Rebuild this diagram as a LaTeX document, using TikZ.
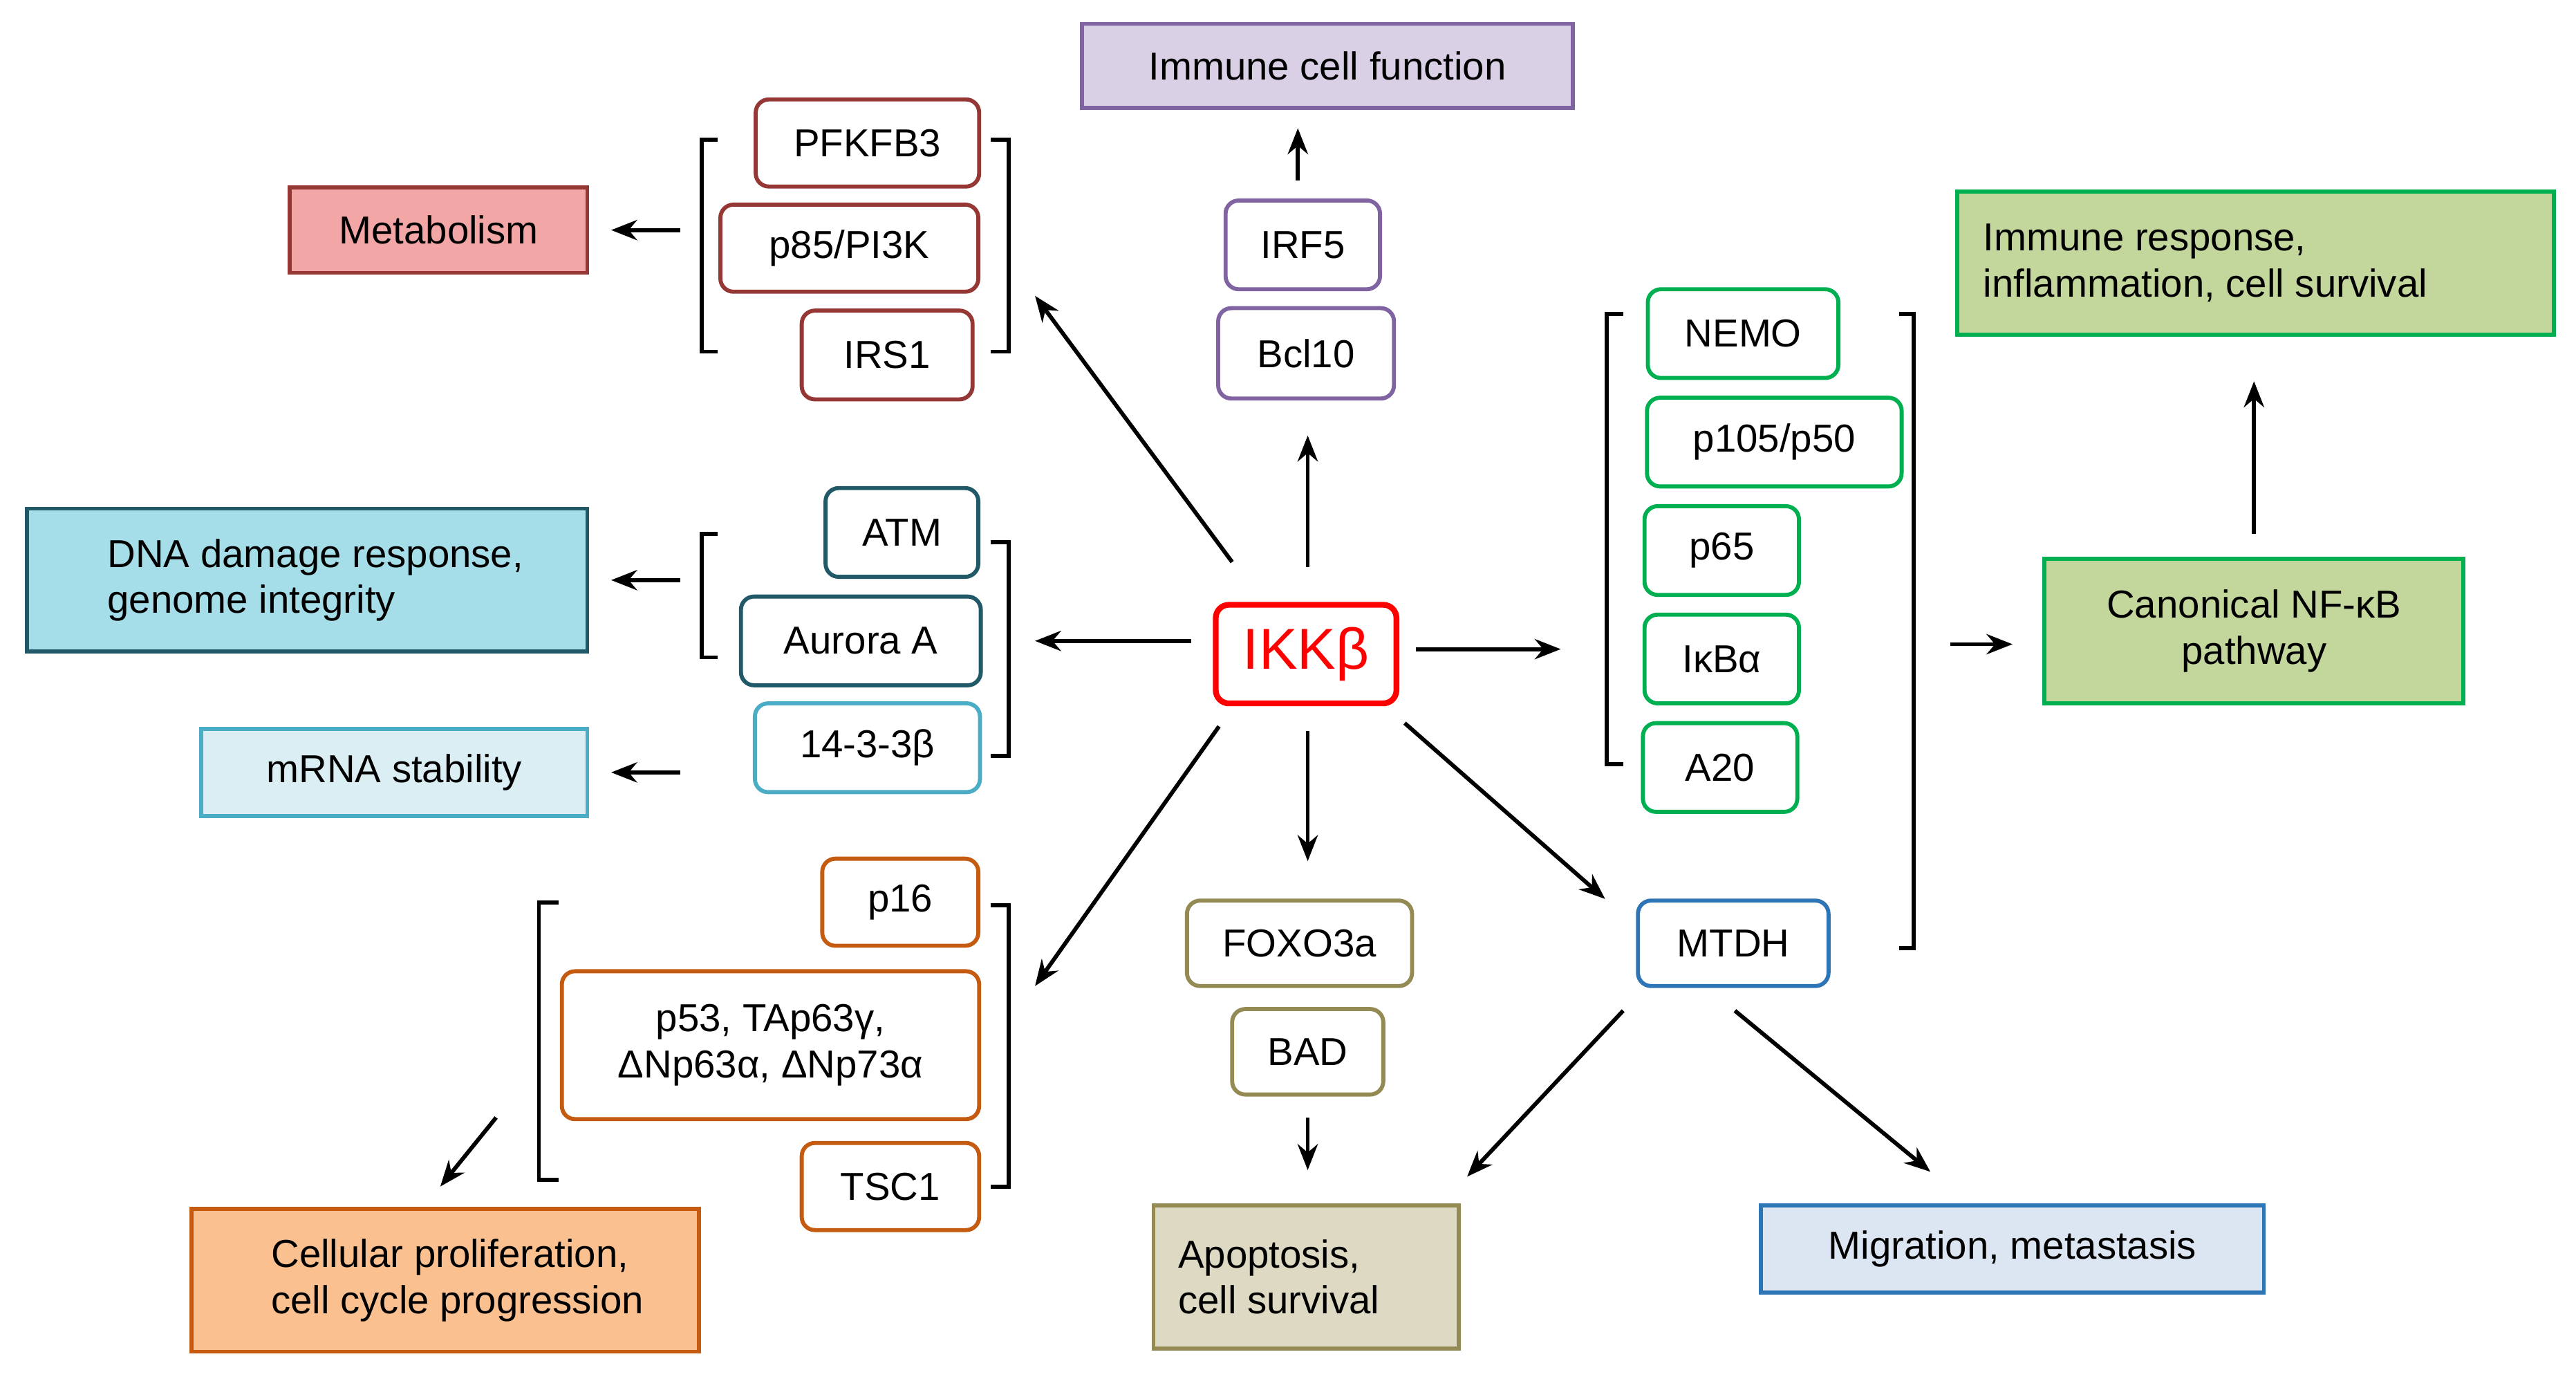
\documentclass[tikz,border=0pt]{standalone}
\usepackage{fontspec}
\setmainfont{Liberation Sans}
\usetikzlibrary{arrows.meta}
\definecolor{mred}{HTML}{953735}\definecolor{mpink}{HTML}{F2A6A6}
\definecolor{ipur}{HTML}{8064A2}\definecolor{ilav}{HTML}{D9D0E6}
\definecolor{ngreen}{HTML}{00B050}\definecolor{nfill}{HTML}{C3D69B}
\definecolor{dteal}{HTML}{215968}\definecolor{dfill}{HTML}{A5DDE8}
\definecolor{lteal}{HTML}{4BACC6}\definecolor{lfill}{HTML}{DBEEF4}
\definecolor{oor}{HTML}{C55A11}\definecolor{ofill}{HTML}{FAC090}
\definecolor{oli}{HTML}{948A54}\definecolor{olfill}{HTML}{DDD9C3}
\definecolor{mblue}{HTML}{2E75B6}\definecolor{mbfill}{HTML}{DCE6F2}
\begin{document}
\begin{tikzpicture}[x=0.02cm,y=-0.02cm,
  font=\fontsize{13.5}{16}\selectfont,
  sb/.style={draw,line width=1.4pt,rounded corners=0.16cm,inner sep=0pt,align=center},
  bb/.style={draw,line width=1.4pt,inner sep=0pt,align=left},
  ar/.style={-{Stealth[length=9pt,width=7pt]},line width=1.4pt},
  br/.style={line width=1.4pt}]
\newcommand\bx[7]{\node[#6,minimum width={#4*0.02cm},minimum height={#5*0.02cm}] (#1) at (#2,#3) {#7};}
\useasboundingbox (0,0) rectangle (1568,839);
% top
\bx{icf}{808}{40}{299}{51}{bb,draw=ipur,fill=ilav,align=center}{Immune cell function}
\bx{irf}{793}{149}{94}{54}{sb,draw=ipur}{IRF5}
\bx{bcl}{795}{215}{107}{55}{sb,draw=ipur}{Bcl10}
% metabolism
\bx{met}{267}{140}{181}{52}{bb,draw=mred,fill=mpink,align=center}{Metabolism}
\bx{pfk}{528}{87}{136}{53}{sb,draw=mred}{PFKFB3}
\bx{p85}{517}{151}{157}{53}{sb,draw=mred}{p85/PI3K}
\bx{irs}{540}{216}{104}{54}{sb,draw=mred}{IRS1}
\draw[br] (437,85)--(427,85)--(427,214)--(437,214);
\draw[br] (603,85)--(614,85)--(614,214)--(603,214);
% DNA
\bx{dna}{187}{353}{341}{87}{bb,draw=dteal,fill=dfill}{\hspace*{0.3cm}DNA damage response,\hspace*{0.1cm}\\\hspace*{0.3cm}genome integrity}
\bx{atm}{549}{324}{93}{54}{sb,draw=dteal}{ATM}
\bx{aur}{524}{390}{146}{54}{sb,draw=dteal}{Aurora A}
\bx{ftb}{528}{455}{137}{54}{sb,draw=lteal}{14-3-3β}
\bx{mrna}{240}{470}{235}{53}{bb,draw=lteal,fill=lfill,align=center}{mRNA stability}
\draw[br] (437,325)--(427,325)--(427,400)--(437,400);
\draw[br] (603,330)--(614,330)--(614,460)--(603,460);
% proliferation
\bx{p16}{548}{549}{95}{53}{sb,draw=oor}{p16}
\bx{p53}{469}{636}{254}{90}{sb,draw=oor}{p53, TAp63γ,\\ΔNp63α, ΔNp73α}
\bx{tsc}{542}{722}{108}{53}{sb,draw=oor}{TSC1}
\bx{cell}{271}{779}{309}{87}{bb,draw=oor,fill=ofill}{\hspace*{0.3cm}Cellular proliferation,\\\hspace*{0.3cm}cell cycle progression}
\draw[br] (340,549)--(328,549)--(328,718)--(340,718);
\draw[br] (603,551)--(614,551)--(614,722)--(603,722);
% apoptosis
\bx{fox}{791}{574}{137}{52}{sb,draw=oli}{FOXO3a}
\bx{bad}{796}{640}{92}{52}{sb,draw=oli}{BAD}
\bx{apo}{795}{777}{183}{87}{bb,draw=oli,fill=olfill}{\hspace*{0.3cm}Apoptosis,\hspace*{1.2cm}\\\hspace*{0.3cm}cell survival}
% NF-kB
\bx{nemo}{1061}{203}{116}{54}{sb,draw=ngreen}{NEMO}
\bx{p105}{1080}{269}{155}{54}{sb,draw=ngreen}{p105/p50}
\bx{p65}{1048}{335}{94}{54}{sb,draw=ngreen}{p65}
\bx{ikb}{1048}{401}{94}{54}{sb,draw=ngreen}{IκBα}
\bx{a20}{1047}{467}{94}{54}{sb,draw=ngreen}{A20}
\bx{mtdh}{1055}{574}{116}{52}{sb,draw=mblue}{MTDH}
\draw[br] (988,191)--(978,191)--(978,465)--(988,465);
\draw[br] (1156,191)--(1165,191)--(1165,577)--(1156,577);
\bx{imr}{1373}{160}{363}{87}{bb,draw=ngreen,fill=nfill}{\hspace*{0.3cm}Immune response,\hspace*{3cm}\\\hspace*{0.3cm}inflammation, cell survival}
\bx{can}{1372}{384}{255}{88}{bb,draw=ngreen,fill=nfill,align=center}{Canonical NF-κB\\pathway}
\bx{mig}{1225}{760}{306}{53}{bb,draw=mblue,fill=mbfill,align=center}{Migration, metastasis}
% center
\node[sb,draw=red,text=red,line width=2pt,font=\fontsize{20}{22}\selectfont,minimum width=2.2cm,minimum height=1.2cm] (ikk) at (795,398) {IKKβ};
% arrows
\coordinate (a1s) at (790,110);\coordinate (a1e) at (790,78);\draw[ar] (a1s)--(a1e);
\coordinate (a2s) at (796,345);\coordinate (a2e) at (796,265);\draw[ar] (a2s)--(a2e);
\coordinate (a3s) at (1372,325);\coordinate (a3e) at (1372,232);\draw[ar] (a3s)--(a3e);
\coordinate (a4s) at (1187,392);\coordinate (a4e) at (1225,392);\draw[ar] (a4s)--(a4e);
\coordinate (a5s) at (725,390);\coordinate (a5e) at (630,390);\draw[ar] (a5s)--(a5e);
\coordinate (a6s) at (862,395);\coordinate (a6e) at (950,395);\draw[ar] (a6s)--(a6e);
\coordinate (a7s) at (796,445);\coordinate (a7e) at (796,524);\draw[ar] (a7s)--(a7e);
\coordinate (a8s) at (750,342);\coordinate (a8e) at (630,180);\draw[ar] (a8s)--(a8e);
\coordinate (a9s) at (742,442);\coordinate (a9e) at (630,600);\draw[ar] (a9s)--(a9e);
\coordinate (b1s) at (855,440);\coordinate (b1e) at (977,547);\draw[ar] (b1s)--(b1e);
\coordinate (b2s) at (414,353);\coordinate (b2e) at (372,353);\draw[ar] (b2s)--(b2e);
\coordinate (b3s) at (414,470);\coordinate (b3e) at (372,470);\draw[ar] (b3s)--(b3e);
\coordinate (b4s) at (414,140);\coordinate (b4e) at (372,140);\draw[ar] (b4s)--(b4e);
\coordinate (b5s) at (302,680);\coordinate (b5e) at (268,722);\draw[ar] (b5s)--(b5e);
\coordinate (b6s) at (796,680);\coordinate (b6e) at (796,712);\draw[ar] (b6s)--(b6e);
\coordinate (b7s) at (988,615);\coordinate (b7e) at (893,716);\draw[ar] (b7s)--(b7e);
\coordinate (b8s) at (1056,615);\coordinate (b8e) at (1175,713);\draw[ar] (b8s)--(b8e);
\end{tikzpicture}
\end{document}
